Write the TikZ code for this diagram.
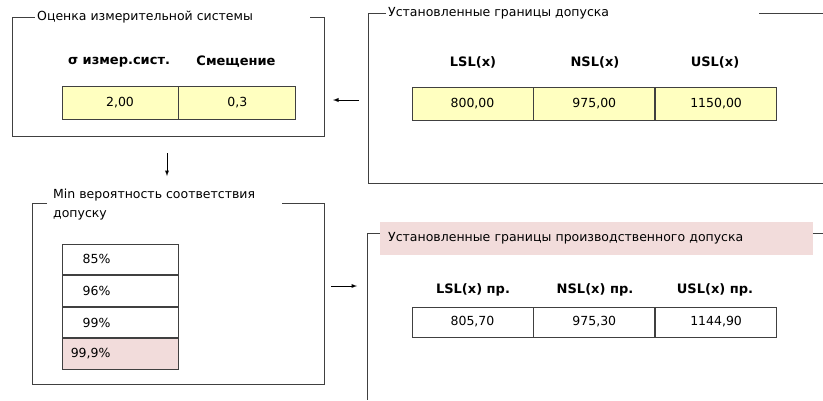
\documentclass[tikz,border=0pt]{standalone}
\usepackage{fontspec}
\setmainfont{DejaVu Sans}
\usetikzlibrary{calc, positioning}

\definecolor{cellyellow}{HTML}{FFFFC0}
\definecolor{titlepink}{HTML}{F2DCDB}
\definecolor{framegray}{HTML}{404040}

\tikzset{
  frame/.style={draw=framegray, line width=0.9pt},
  grouptitle/.style={anchor=west, inner sep=2pt, font=\fontsize{12.5}{19}\selectfont},
  colhead/.style={font=\bfseries\fontsize{13}{15}\selectfont},
  valcell/.style={draw=framegray, line width=0.8pt, minimum width=121pt,
    minimum height=33pt, inner sep=0pt, font=\fontsize{12.5}{14}\selectfont},
  pctcell/.style={draw=framegray, line width=0.8pt, minimum width=116pt,
    minimum height=30.75pt, inner sep=0pt},
  flow/.style={draw=black, line width=0.9pt, -latex},
}

\begin{document}
\begin{tikzpicture}[x=1pt, y=-1pt]
  \useasboundingbox (0,0) rectangle (823,400);

  % measurement system
  \node[grouptitle] (msTitle) at (35,17) {Оценка измерительной системы};
  \draw[frame] (310,17) -- (324,17) |- (12,136) |- (msTitle.west);
  \node[colhead] (msSigma) at (119,62) {σ измер.сист.};
  \node[colhead] (msBias) at (236,62) {Смещение};
  \node[valcell, fill=cellyellow, minimum width=116pt] (msSigmaVal) at (120,102.5) {2,00};
  \node[valcell, fill=cellyellow, minimum width=117pt, right=0pt of msSigmaVal] (msBiasVal) {0,3};

  % tolerance limits
  \node[grouptitle] (tolTitle) at (386,13) {Установленные границы допуска};
  \draw[frame] (tolTitle.west) -| (368,183) -- (823,183);
  \draw[frame] (759,13) -- (823,13);
  \node[colhead] (tolLSL) at (473,62) {LSL(x)};
  \node[colhead] (tolNSL) at (595,62) {NSL(x)};
  \node[colhead] (tolUSL) at (715,62) {USL(x)};
  \node[valcell, fill=cellyellow] (tolLSLVal) at (472.5,103.5) {800,00};
  \node[valcell, fill=cellyellow, right=0pt of tolLSLVal] (tolNSLVal) {975,00};
  \node[valcell, fill=cellyellow, right=0pt of tolNSLVal] (tolUSLVal) {1150,00};

  % min probability
  \node[grouptitle, anchor=north west, align=left] (probTitle) at (51,187)
    {Min вероятность соответствия\\допуску};
  \draw[frame] (47,203) -| (32,384) -| (324,203) -- (282,203);
  \node[pctcell] (p85) at (120,259.4) {};
  \node[pctcell, below=0pt of p85] (p96) {};
  \node[pctcell, below=0pt of p96] (p99) {};
  \node[pctcell, below=0pt of p99, fill=titlepink] (p999) {};
  \foreach \c/\v in {p85/85, p96/96, p99/99, p999/{99,9}}
    \node[anchor=east, font=\fontsize{12.5}{14}\selectfont] at ([xshift=-6pt]\c.center) {\v\%};

  % production tolerance limits
  \draw[frame] (385,233) -| (367,400);
  \draw[frame] (810,233) -- (823,233);
  \node[fill=titlepink, anchor=west, minimum height=33pt, text width=417pt,
    inner xsep=8pt, align=left, font=\fontsize{12.5}{14}\selectfont] (prodTitle) at (380,238.5)
    {Установленные границы производственного допуска};
  \node[colhead] (prodLSL) at (473,290) {LSL(x) пр.};
  \node[colhead] (prodNSL) at (595,290) {NSL(x) пр.};
  \node[colhead] (prodUSL) at (715,290) {USL(x) пр.};
  \node[valcell, minimum height=30pt] (prodLSLVal) at (472.5,322) {805,70};
  \node[valcell, minimum height=30pt, right=0pt of prodLSLVal] (prodNSLVal) {975,30};
  \node[valcell, minimum height=30pt, right=0pt of prodNSLVal] (prodUSLVal) {1144,90};

  % arrows between groups
  \coordinate (tolOut) at (359,100);
  \coordinate (msIn) at (333,100);
  \coordinate (msOut) at (167,153);
  \coordinate (probIn) at (167,176);
  \coordinate (probOut) at (331,286);
  \coordinate (prodIn) at (357,286);
  \draw[flow] (tolOut) -- (msIn);
  \draw[flow] (msOut) -- (probIn);
  \draw[flow] (probOut) -- (prodIn);
\end{tikzpicture}
\end{document}
